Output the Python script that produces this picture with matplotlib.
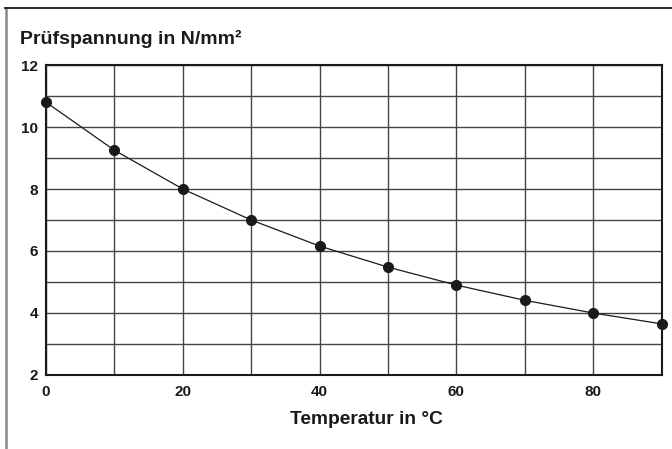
import matplotlib
matplotlib.use('Agg')
import matplotlib.pyplot as plt
from matplotlib.lines import Line2D

plt.rcParams['font.family'] = ['Liberation Sans', 'DejaVu Sans']
plt.rcParams['font.weight'] = 'bold'

# Prüfspannung over temperature
temperatur = [0, 10, 20, 30, 40, 50, 60, 70, 80, 90]
pruefspannung = [10.8, 9.25, 8.0, 7.0, 6.16, 5.48, 4.9, 4.41, 4.0, 3.65]

x_ticks = [0, 20, 40, 60, 80]
y_ticks = [2, 4, 6, 8, 10, 12]

fig = plt.figure(figsize=(6.72, 4.49), dpi=100)
ax = fig.add_axes([46 / 672, 1 - 375 / 449, (661.5 - 46) / 672, (375 - 65) / 449])

ax.plot(temperatur, pruefspannung, color='#1a1a1a', linewidth=0.9,
        marker='o', markersize=7, markerfacecolor='#1a1a1a', markeredgecolor='#1a1a1a',
        clip_on=False, zorder=3)

ax.set_xlim(0, 90)
ax.set_ylim(2, 12)
ax.set_xticks(x_ticks)
ax.set_yticks(y_ticks)
ax.set_xticks(range(0, 91, 10), minor=True)
ax.set_yticks(range(2, 13), minor=True)
ax.grid(True, which='both', color='#444444', linewidth=1.0)
ax.set_axisbelow(True)
ax.tick_params(which='both', length=0, labelsize=11, colors='#1a1a1a')
ax.tick_params(axis='x', pad=7)
ax.tick_params(axis='y', pad=5.5)
for lab in ax.get_xticklabels() + ax.get_yticklabels():
    lab.set_fontweight('bold')
for s in ax.spines.values():
    s.set_color('#1a1a1a')
    s.set_linewidth(1.5)

fig.text(20 / 672, 1 - 44 / 449, 'Prüfspannung in N/mm²', fontsize=14,
         fontweight='bold', color='#1a1a1a', ha='left', va='baseline')
fig.text(366 / 672, 1 - 424 / 449, 'Temperatur in °C', fontsize=13.8,
         fontweight='bold', color='#1a1a1a', ha='center', va='baseline')

# outer frame (top and left edges)
fig.add_artist(Line2D([6 / 672, 6 / 672], [0, 1 - 7.5 / 449], transform=fig.transFigure,
                      color='#888888', linewidth=1.8))
fig.add_artist(Line2D([5 / 672, 1], [1 - 7.5 / 449, 1 - 7.5 / 449], transform=fig.transFigure,
                      color='#1a1a1a', linewidth=1.3))

fig.savefig('out.png', dpi=100)
